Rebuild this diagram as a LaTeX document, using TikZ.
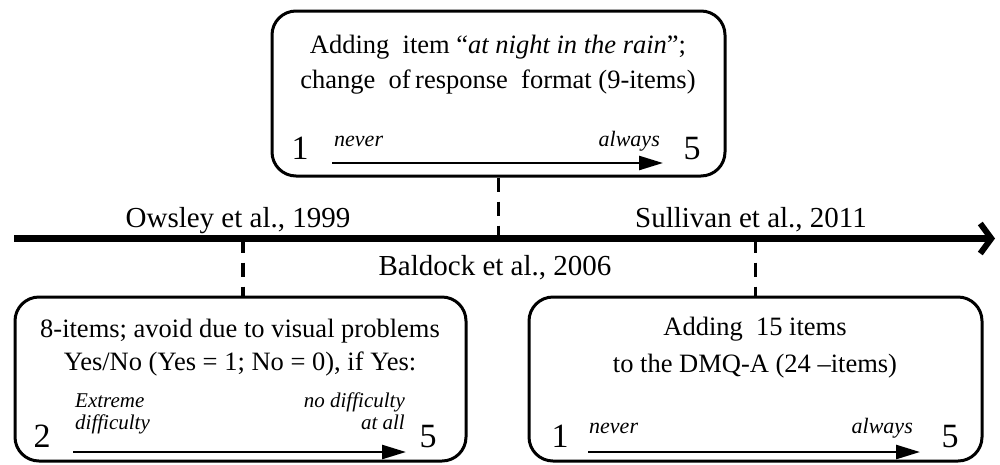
\documentclass[tikz,border=0pt]{standalone}
\usepackage{fontspec}
\setmainfont{Liberation Serif}
\usetikzlibrary{arrows.meta}
\begin{document}
\begin{tikzpicture}[x=1pt,y=-1pt,
  box/.style={draw,line width=3pt,rounded corners=24pt,inner sep=0pt},
  maintext/.style={anchor=base,inner sep=0pt,font=\fontsize{29}{35}\selectfont},
  boxtext/.style={anchor=base,inner sep=0pt,font=\fontsize{26.5}{32}\selectfont},
  scaletext/.style={inner sep=0pt,font=\fontsize{22}{19}\selectfont\itshape},
  smallscale/.style={inner sep=0pt,font=\fontsize{21}{19}\selectfont\itshape},
  digit/.style={anchor=base,inner sep=0pt,font=\fontsize{34}{34}\selectfont},
  scalearrow/.style={line width=2.5pt,-{Triangle[length=24pt,width=14pt]}},
  connector/.style={line width=3.5pt,dash pattern=on 14pt off 10pt},
  timeline/.style={line width=7pt,-{Straight Barb[length=11pt,width=30pt,line width=6pt]}}
]
\useasboundingbox (0,0) rectangle (1000,464);
% boxes
\node[box,minimum width=453pt,minimum height=165pt] (topbox) at (498.5,93.5) {};
\node[box,minimum width=451pt,minimum height=164pt] (blbox) at (240.5,379) {};
\node[box,minimum width=453pt,minimum height=164pt] (brbox) at (755.5,379) {};
% timeline
\coordinate (tstart) at (14,238.5);
\coordinate (tend) at (995,238.5);
\draw[timeline] (tstart) -- (tend);
\coordinate (tA) at (243,238.5);
\coordinate (tB) at (498.5,238.5);
\coordinate (tC) at (755.5,238.5);
\draw[connector] (topbox.south) -- (tB);
\draw[connector] (tA) -- (tA |- blbox.north);
\draw[connector] (tC) -- (tC |- brbox.north);
% timeline labels
\node[maintext] (owsley) at (238,227) {Owsley et al., 1999};
\node[maintext] (sullivan) at (751,227) {Sullivan et al., 2011};
\node[maintext] (baldock) at (495,275) {Baldock et al., 2006};
% top box content
\node[boxtext] (t1) at (498,53) {Adding\ \ item “\textit{at night in the rain}”;};
\node[boxtext] (t2) at (498,88) {change\ \ of\,response\ \ format (9-items)};
\node[digit] (t1d) at (300,159) {1};
\node[digit] (t5d) at (692,159) {5};
\coordinate (ta0) at (332,163);
\coordinate (ta1) at (663,163);
\draw[scalearrow] (ta0) -- (ta1);
\node[scaletext,anchor=base west] (tnever) at (334,146) {never};
\node[scaletext,anchor=base east] (talways) at (660,146) {always};
% bottom left content
\node[boxtext] (b1) at (240,337) {8-items; avoid due to visual problems};
\node[boxtext] (b2) at (240,370) {Yes/No (Yes = 1; No = 0), if Yes:};
\node[digit] (b2d) at (42,447) {2};
\node[digit] (b5d) at (428,447) {5};
\coordinate (ba0) at (73,452);
\coordinate (ba1) at (406,452);
\draw[scalearrow] (ba0) -- (ba1);
\node[smallscale,anchor=base west] (bext) at (75,407) {Extreme};
\node[smallscale,anchor=base west] (bdif) at (75,429) {difficulty};
\node[smallscale,anchor=base east] (bno) at (405,407) {no difficulty};
\node[smallscale,anchor=base east] (ball) at (405,429) {at all};
% bottom right content
\node[boxtext] (r1) at (755,335) {Adding\ \ 15 items};
\node[boxtext] (r2) at (755,372) {to the DMQ-A (24 –items)};
\node[digit] (r1d) at (560,447) {1};
\node[digit] (r5d) at (950,447) {5};
\coordinate (ra0) at (588,452);
\coordinate (ra1) at (920,452);
\draw[scalearrow] (ra0) -- (ra1);
\node[scaletext,anchor=base west] (rnever) at (589,433) {never};
\node[scaletext,anchor=base east] (ralways) at (913,433) {always};
\end{tikzpicture}
\end{document}
